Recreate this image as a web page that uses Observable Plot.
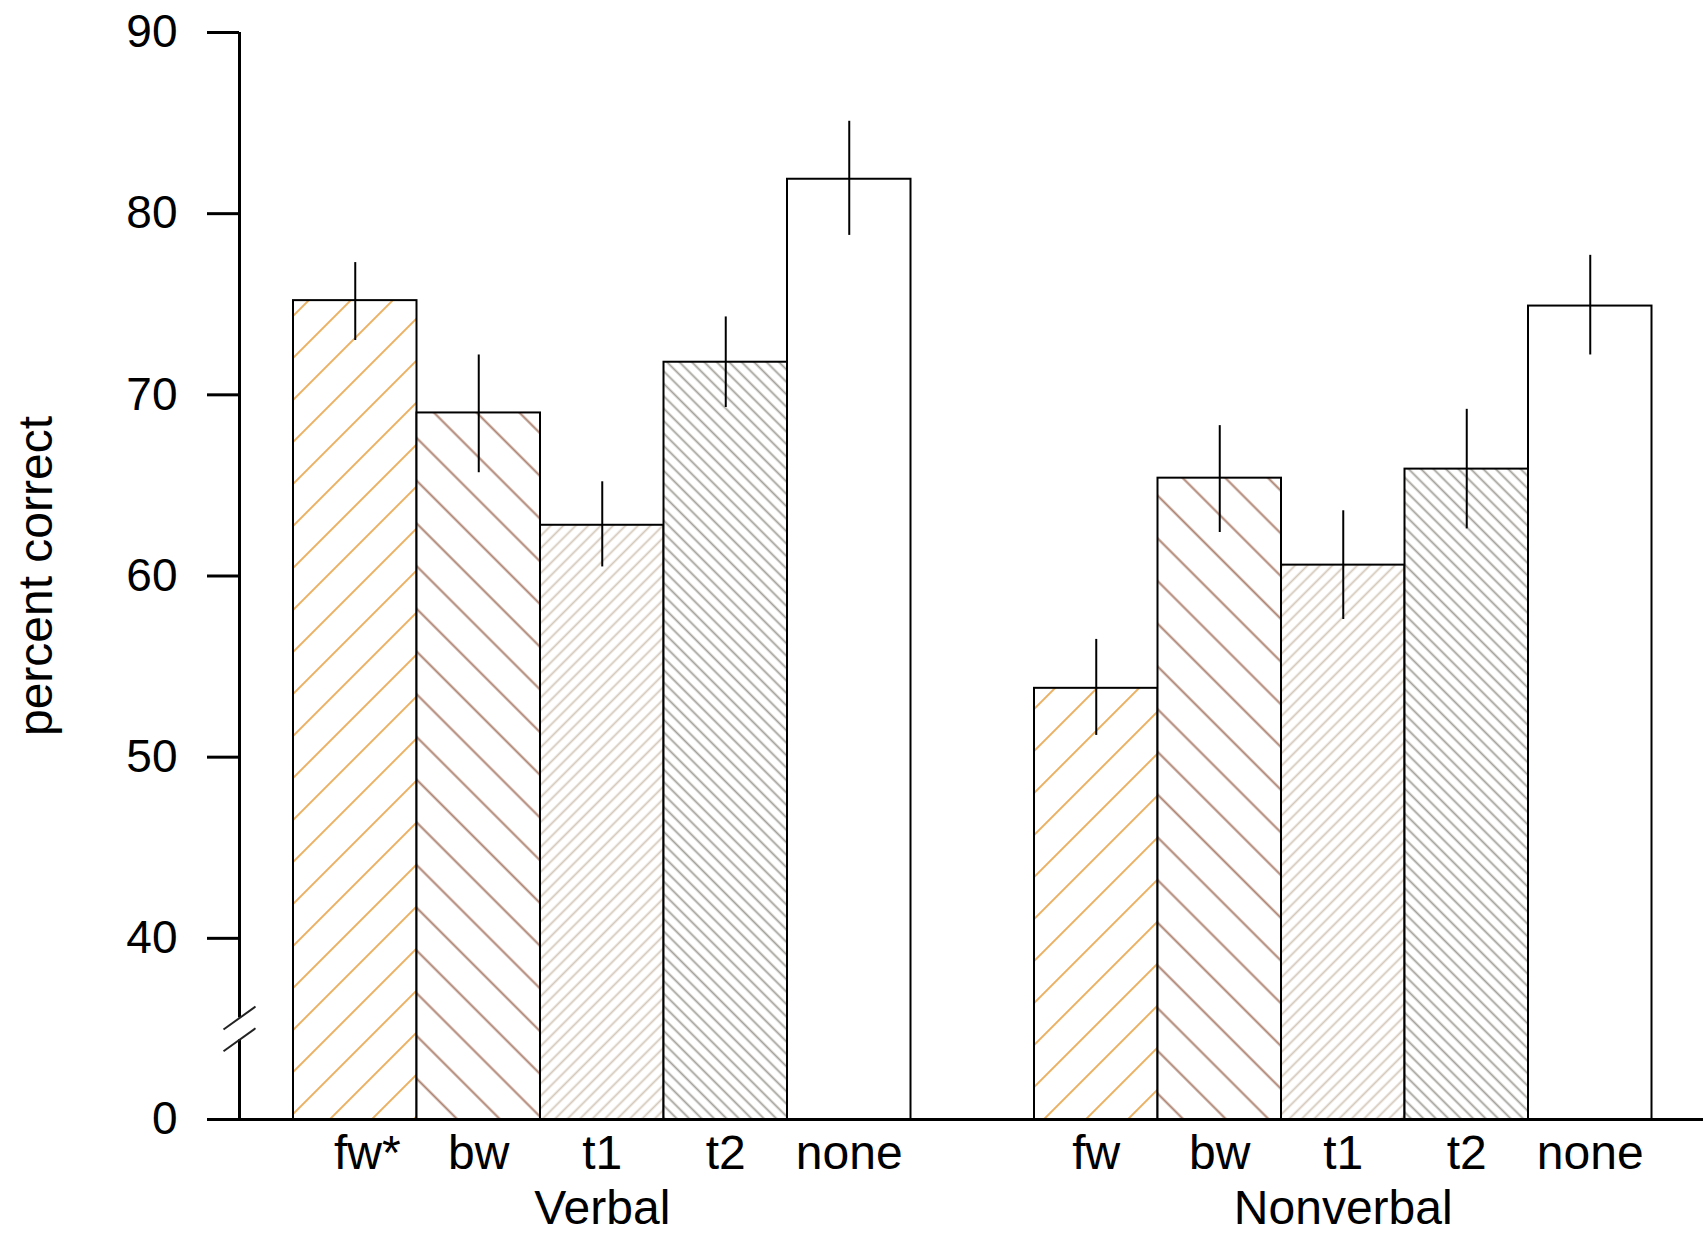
<!DOCTYPE html>
<html>
<head>
<meta charset="utf-8">
<script src="https://cdn.jsdelivr.net/npm/d3@7"></script>
<script src="https://cdn.jsdelivr.net/npm/@observablehq/plot@0.6"></script>
<style>
  html, body { margin: 0; padding: 0; background: #fff; }
  #chart svg { display: block; }
</style>
</head>
<body>
<div id="chart"></div>
<script>
// ---- data ----
const groups = ["Verbal", "Nonverbal"];
const conditions = ["fw", "bw", "t1", "t2", "none"];
const verbalLabels = ["fw*", "bw", "t1", "t2", "none"];
const nonverbalLabels = ["fw", "bw", "t1", "t2", "none"];
const verbalMean = [75.2, 69.0, 62.8, 71.8, 81.9];
const verbalLow = [73.0, 65.7, 60.5, 69.3, 78.8];
const verbalHigh = [77.3, 72.2, 65.2, 74.3, 85.1];
const nonverbalMean = [53.8, 65.4, 60.6, 65.9, 74.9];
const nonverbalLow = [51.2, 62.4, 57.6, 62.6, 72.2];
const nonverbalHigh = [56.5, 68.3, 63.6, 69.2, 77.7];
const yTickValues = [40, 50, 60, 70, 80, 90];
const yTickZeroLabel = "0";
const yLabel = "percent correct";

// broken axis: the "0" of the axis sits where 30 would be
const axisZero = 30;
const breakUpper = 35.6, breakLower = 34.4;

// pattern styles per condition
const patterns = {
  fw:   {color: "#EBB062", angle: 45,  spacing: 29.7, width: 2.0},
  bw:   {color: "#AE8270", angle: -45, spacing: 30.2, width: 2.0},
  t1:   {color: "#D4C8BA", angle: 45,  spacing: 8.8,  width: 1.8},
  t2:   {color: "#A3A199", angle: -45, spacing: 8.8,  width: 1.8},
  none: null
};

// ---- build table ----
const means = [verbalMean, nonverbalMean];
const lows = [verbalLow, nonverbalLow];
const highs = [verbalHigh, nonverbalHigh];
const labels = [verbalLabels, nonverbalLabels];
const rows = [];
groups.forEach((g, gi) => {
  conditions.forEach((c, ci) => {
    const pos = gi * (conditions.length + 1) + ci;
    rows.push({
      group: g, cond: c, label: labels[gi][ci],
      mean: means[gi][ci], lo: lows[gi][ci], hi: highs[gi][ci],
      x1: pos, x2: pos + 1, xc: pos + 0.5
    });
  });
});
const groupRows = groups.map((g, gi) => ({
  group: g,
  xc: gi * (conditions.length + 1) + conditions.length / 2
}));

const W = 1703, H = 1234;
const marginLeft = 239, marginRight = 0, marginTop = 32, marginBottom = 115;
const barPx = 123.5;
const firstBarPx = 293;
const xDomain = [(marginLeft - firstBarPx) / barPx, (W - marginRight - firstBarPx) / barPx];
const tickLen = 32;
const font = "'Liberation Sans', Arial, Helvetica, sans-serif";

const yPerPx = (90 - axisZero) / (H - marginTop - marginBottom);
const xPerPx = (xDomain[1] - xDomain[0]) / (W - marginLeft - marginRight);
const slantDx = 16 * xPerPx, slantDy = 11.5 * yPerPx;

const marks = [];
// bars, one mark per condition (pattern fill)
conditions.forEach(c => {
  marks.push(Plot.rect(rows.filter(d => d.cond === c), {
    x1: "x1", x2: "x2", y1: axisZero, y2: "mean",
    fill: patterns[c] ? `url(#pat-${c})` : "white",
    stroke: "black", strokeWidth: 2
  }));
});
// error bars
marks.push(Plot.ruleX(rows, {x: "xc", y1: "lo", y2: "hi", stroke: "black", strokeWidth: 2}));
// x axis line
marks.push(Plot.ruleY([axisZero], {x1: xDomain[0] - tickLen * xPerPx, x2: xDomain[1], stroke: "black", strokeWidth: 3}));
// y axis line with break
marks.push(Plot.ruleX([xDomain[0]], {y1: breakUpper, y2: 90, stroke: "black", strokeWidth: 3}));
marks.push(Plot.ruleX([xDomain[0]], {y1: axisZero, y2: breakLower, stroke: "black", strokeWidth: 3}));
marks.push(Plot.link([breakUpper, breakLower], {
  x1: () => xDomain[0] - slantDx, y1: d => d - slantDy,
  x2: () => xDomain[0] + slantDx, y2: d => d + slantDy,
  stroke: "#222", strokeWidth: 2
}));
// y axis ticks & labels
marks.push(Plot.axisY([axisZero, ...yTickValues], {
  tickSize: tickLen, tickPadding: 30, strokeWidth: 3,
  tickFormat: d => d === axisZero ? yTickZeroLabel : String(d),
  fontSize: 46, fill: "black", label: null
}));
// category labels
marks.push(Plot.text(rows.filter(d => !d.label.endsWith("*")), {
  x: "xc", y: axisZero, text: "label", dy: 34, lineAnchor: "middle",
  fontSize: 48, fill: "black"
}));
marks.push(Plot.text(rows.filter(d => d.label.endsWith("*")), {
  x: "xc", y: axisZero, text: "label", dy: 34, dx: 12, lineAnchor: "middle",
  fontSize: 48, fill: "black"
}));
// group labels
marks.push(Plot.text(groupRows, {
  x: "xc", y: axisZero, text: "group", dy: 89, lineAnchor: "middle",
  fontSize: 48, fill: "black"
}));
// y label (centred vertically on the frame)
marks.push(Plot.text([yLabel], {
  x: () => xDomain[0] - 203 * xPerPx,
  frameAnchor: "middle", rotate: -90, lineAnchor: "middle",
  fontSize: 48, fill: "black"
}));

const chart = Plot.plot({
  width: W, height: H,
  marginLeft, marginRight, marginTop, marginBottom,
  x: {domain: xDomain, axis: null},
  y: {domain: [axisZero, 90], axis: null},
  style: {fontFamily: font, background: "white", overflow: "visible"},
  marks
});

// pattern defs
const svg = d3.select(chart);
const defs = svg.insert("defs", ":first-child");
Object.entries(patterns).forEach(([c, p]) => {
  if (!p) return;
  const pat = defs.append("pattern")
    .attr("id", `pat-${c}`)
    .attr("patternUnits", "userSpaceOnUse")
    .attr("width", p.spacing).attr("height", p.spacing)
    .attr("patternTransform", `rotate(${p.angle})`);
  pat.append("rect").attr("width", p.spacing).attr("height", p.spacing).attr("fill", "white");
  pat.append("line")
    .attr("x1", p.spacing / 2).attr("x2", p.spacing / 2)
    .attr("y1", 0).attr("y2", p.spacing)
    .attr("stroke", p.color).attr("stroke-width", p.width);
});

document.getElementById("chart").appendChild(chart);
</script>
</body>
</html>
